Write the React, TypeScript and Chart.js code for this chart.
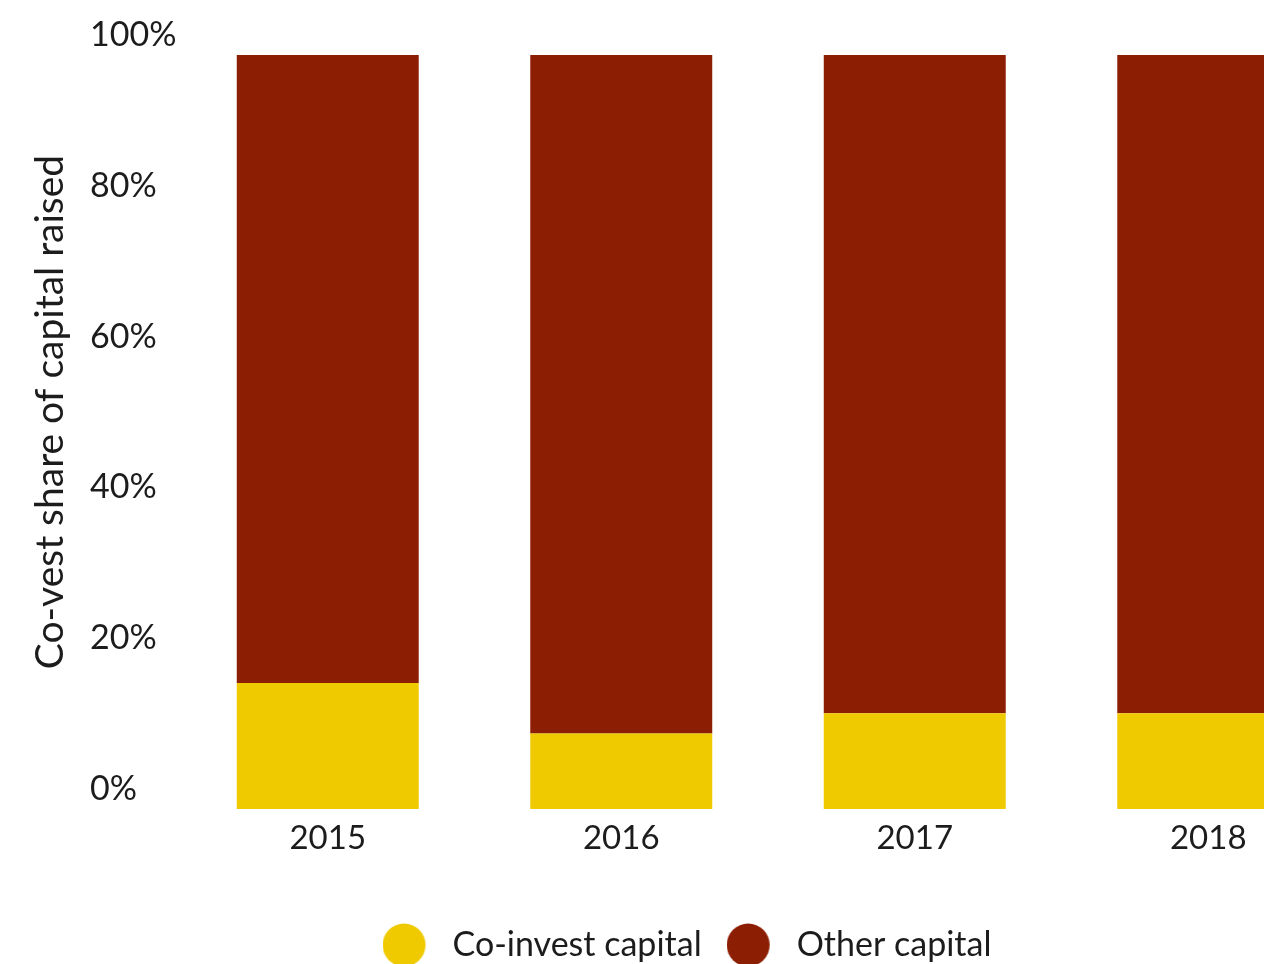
import React, { useEffect, useRef } from "react";
import { Chart, registerables } from "chart.js";

Chart.register(...registerables);

const years = ["2015", "2016", "2017", "2018"];
const coInvestShare = [16.7, 10.0, 12.7, 12.7];
const otherShare = [83.3, 90.0, 87.3, 87.3];
const yTicks = [0, 20, 40, 60, 80, 100];

const YELLOW = "#F0CA00";
const RED = "#8B1E03";
const TEXT = "#1c1c1c";
const FONT = "Lato";

function makeLegendDot(color: string): HTMLCanvasElement {
  const c = document.createElement("canvas");
  c.width = 53;
  c.height = 44;
  const ctx = c.getContext("2d")!;
  ctx.fillStyle = color;
  ctx.beginPath();
  ctx.arc(21.5, 22, 21.5, 0, Math.PI * 2);
  ctx.fill();
  return c;
}

const yTitlePlugin = {
  id: "yTitle",
  afterDraw(chart: any) {
    const ctx = chart.ctx;
    ctx.save();
    ctx.translate(50, 412);
    ctx.rotate(-Math.PI / 2);
    ctx.font = `39px ${FONT}`;
    ctx.fillStyle = TEXT;
    ctx.textAlign = "center";
    ctx.textBaseline = "middle";
    ctx.fillText("Co-vest share of capital raised", 0, 0);
    ctx.restore();
  },
};

export default function App() {
  const ref = useRef<HTMLCanvasElement>(null);

  useEffect(() => {
    if (!ref.current) return;
    const dots = [makeLegendDot(YELLOW), makeLegendDot(RED)];
    const padLeft = 19;
    const chart = new Chart(ref.current, {
      type: "bar",
      data: {
        labels: years,
        datasets: [
          {
            label: "Co-invest capital",
            data: coInvestShare,
            backgroundColor: YELLOW,
            borderWidth: 0,
            xAxisID: "x",
            yAxisID: "y",
          },
          {
            label: "Other capital",
            data: otherShare,
            backgroundColor: RED,
            borderWidth: 0,
            xAxisID: "x",
            yAxisID: "y",
          },
        ],
      },
      options: {
        animation: false,
        responsive: true,
        maintainAspectRatio: false,
        datasets: {
          bar: { categoryPercentage: 1, barPercentage: 0.62 },
        },
        layout: { padding: { left: padLeft, right: 5, top: 55, bottom: 0 } },
        plugins: {
          tooltip: { enabled: false },
          legend: {
            position: "bottom",
            labels: {
              usePointStyle: true,
              pointStyleWidth: 53,
              boxHeight: 30,
              padding: 25,
              color: TEXT,
              font: { family: FONT, size: 34 },
              generateLabels: (chart: any) =>
                chart.data.datasets.map((ds: any, i: number) => ({
                  text: ds.label,
                  fillStyle: ds.backgroundColor,
                  strokeStyle: ds.backgroundColor,
                  lineWidth: 0,
                  pointStyle: dots[i],
                  hidden: false,
                  datasetIndex: i,
                  fontColor: TEXT,
                })),
            },
          },
        },
        scales: {
          x: {
            stacked: true,
            grid: { display: false, drawTicks: false },
            border: { display: false },
            ticks: {
              color: TEXT,
              padding: 10,
              font: { family: FONT, size: 33 },
            },
            afterFit: (scale: any) => {
              scale.height = 94;
            },
          },
          y: {
            stacked: true,
            position: "left",
            weight: 0,
            min: 0,
            max: 100,
            grid: { display: false, drawTicks: false },
            border: { display: false },
            afterBuildTicks: (scale: any) => {
              scale.ticks = yTicks.map((v) => ({ value: v }));
            },
            ticks: {
              color: TEXT,
              padding: 5,
              crossAlign: "far",
              labelOffset: -20,
              font: { family: FONT, size: 34 },
              callback: (v: any) => `${v}%`,
            },
            afterFit: (scale: any) => {
              scale.width = 181 - 90;
            },
          },
          spacer: {
            type: "linear",
            position: "left",
            weight: 1,
            display: true,
            grid: { display: false, drawTicks: false },
            border: { display: false },
            ticks: { display: false },
            afterFit: (scale: any) => {
              scale.width = 90 - padLeft;
            },
          },
        },
      },
      plugins: [yTitlePlugin],
    });
    return () => chart.destroy();
  }, []);

  return (
    <div
      style={{
        position: "absolute",
        left: 0,
        top: 0,
        width: 1264,
        height: 964,
        overflow: "hidden",
        background: "#fff",
      }}
    >
      <div style={{ position: "relative", width: 1360, height: 972 }}>
        <canvas ref={ref} />
      </div>
    </div>
  );
}
